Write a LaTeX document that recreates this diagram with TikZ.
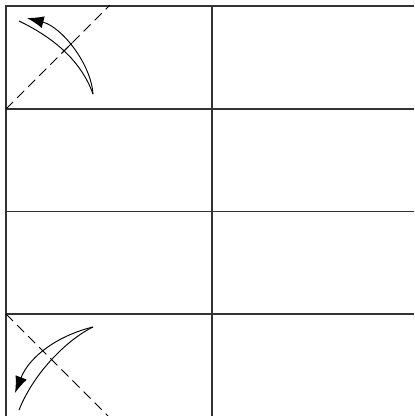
\documentclass[tikz,border=0pt]{standalone}
\usepackage{tikz}
\usetikzlibrary{arrows.meta}

\begin{document}
\begin{tikzpicture}[x=0.03cm,y=-0.03cm,
    gridline/.style={line width=1pt,draw=black!80},
    foldline/.style={line width=0.7pt,dash pattern=on 0.3cm off 0.17cm},
    curve/.style={line width=0.8pt},
    arrowtip/.style={-{Latex[length=5mm,width=3.6mm]}}]

\useasboundingbox (0,0) rectangle (414,416);

% Grid
\draw[gridline] (6,416) -- (6,6) -- (414,6);
\draw[gridline] (212,6) -- (212,416);
\draw[gridline] (6,109) -- (414,109);
\draw[gridline] (6,211.5) -- (414,211.5);
\draw[gridline] (6,314) -- (414,314);

% Fold lines
\draw[foldline] (6,109) -- (110,5);
\draw[foldline] (6,314) -- (108,416);

% Top fold arrow
\draw[curve] (19,21) .. controls (50,36) and (80,58) .. (93,94);
\draw[curve,arrowtip] (93,94) .. controls (91,64) and (62,27) .. (27,18);
\draw[curve] (62,53) -- (72,43);

% Bottom fold arrow
\draw[curve] (93,327) .. controls (70,338) and (35,370) .. (19,410);
\draw[curve,arrowtip] (93,327) .. controls (60,335) and (30,355) .. (15,393);

\end{tikzpicture}
\end{document}
